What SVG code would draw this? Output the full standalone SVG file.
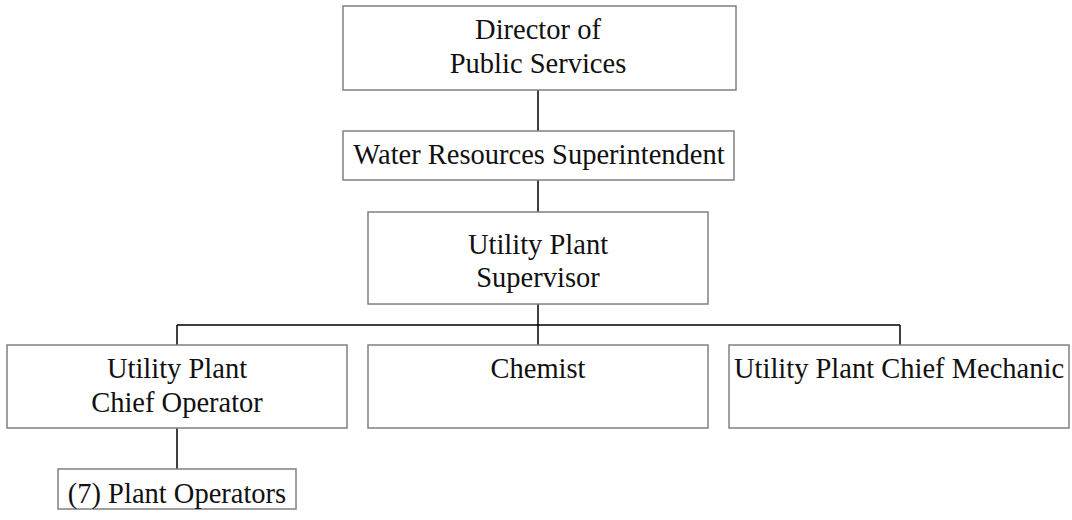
<svg xmlns="http://www.w3.org/2000/svg" width="1072" height="520" viewBox="0 0 1072 520">
<style>
.box{fill:#fff;stroke:#808080;stroke-width:1.5}
.lbl{font-family:"Liberation Serif","Times New Roman",serif;font-size:28.5px;fill:#111;text-anchor:middle}
.con{stroke:#000;stroke-width:1.5;fill:none}
</style>
<rect width="1072" height="520" fill="#fff"/>
<g id="connectors">
<path class="con" d="M538 90V131M538 180V212M538 304V325M177 325H900M177 325V345M538 325V345M900 325V345M177 428V469"/>
</g>
<g id="director">
<rect class="box" x="343" y="6" width="393" height="84"/>
<text class="lbl" x="538" y="39">Director of</text>
<text class="lbl" x="538" y="73">Public Services</text>
</g>
<g id="water">
<rect class="box" x="343" y="131" width="391" height="49"/>
<text class="lbl" x="539" y="164">Water Resources Superintendent</text>
</g>
<g id="supervisor">
<rect class="box" x="368" y="212" width="340" height="92"/>
<text class="lbl" x="538" y="254">Utility Plant</text>
<text class="lbl" x="538" y="287">Supervisor</text>
</g>
<g id="chief-operator">
<rect class="box" x="7" y="345" width="340" height="83"/>
<text class="lbl" x="177" y="378">Utility Plant</text>
<text class="lbl" x="177" y="412">Chief Operator</text>
</g>
<g id="chemist">
<rect class="box" x="368" y="345" width="340" height="83"/>
<text class="lbl" x="538" y="378">Chemist</text>
</g>
<g id="mechanic">
<rect class="box" x="729" y="345" width="340" height="83"/>
<text class="lbl" x="899" y="378">Utility Plant Chief Mechanic</text>
</g>
<g id="plant-operators">
<rect class="box" x="58" y="469" width="238" height="40"/>
<text class="lbl" x="177" y="503">(7) Plant Operators</text>
</g>
</svg>
